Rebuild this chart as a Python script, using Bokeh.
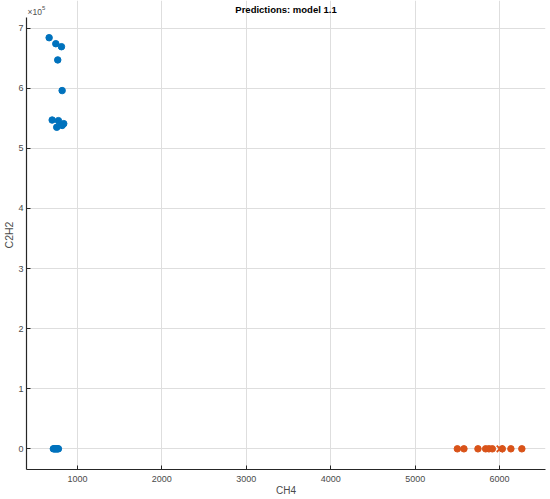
import numpy as np
from bokeh.plotting import figure
from bokeh.models import Range1d, FixedTicker, Label
from bokeh.embed import file_html
from bokeh.resources import INLINE

# ---- data ----
blue_x = [665, 744, 811, 767, 819, 701, 775, 755, 819, 838,
          715, 725, 735, 745, 755, 765, 775]
blue_y = [6.84e5, 6.74e5, 6.69e5, 6.47e5, 5.96e5, 5.47e5, 5.46e5, 5.35e5, 5.38e5, 5.41e5,
          0, 0, 0, 0, 0, 0, 0]
orange_x = [5500, 5578, 5744, 5835, 5874, 5914, 6032, 6134, 6264]
orange_y = [0, 0, 0, 0, 0, 0, 0, 0, 0]
cross_x = [6004]
cross_y = [0]

x_ticks = [1000, 2000, 3000, 4000, 5000, 6000]
y_ticks = [0, 1e5, 2e5, 3e5, 4e5, 5e5, 6e5, 7e5]
y_tick_labels = ["0", "1", "2", "3", "4", "5", "6", "7"]

title_text = "Predictions: model 1.1"
x_label = "CH4"
y_label = "C2H2"

# ---- layout (canvas sits at the page's top-left corner) ----
W, H = 550, 499
L, R, T, B = 25, 5, 0, 30          # frame: x 25..545, y 0..469
AXIS_TOP_PX = 17                    # where the drawn axes / grid stop
fw, fh = W - L - R, H - T - B
x0, x1 = 397, 6544
y_bottom = -0.344e5
y_axis_top = 7.176e5
px_per_y = (fh - AXIS_TOP_PX) / (y_axis_top - y_bottom)
y_top = y_bottom + fh / px_per_y

def fx(px):
    return x0 + (px - L) * (x1 - x0) / fw

def fy(py):
    return y_top - (py - T) / px_per_y

FONT = "Liberation Sans"
AX = "#262626"
TXT = "#4a4a4a"

p = figure(width=W, height=H, output_backend="svg", toolbar_location=None, title=None,
           x_range=Range1d(x0, x1), y_range=Range1d(y_bottom, y_top),
           min_border_left=L, min_border_right=R, min_border_top=T, min_border_bottom=B)
p.outline_line_color = None
p.background_fill_color = "white"
p.border_fill_color = "white"

for ax in (p.xaxis[0], p.yaxis[0]):
    ax.axis_line_color = AX
    ax.axis_line_width = 1.2
    ax.major_tick_line_color = AX
    ax.major_tick_in = 4
    ax.major_tick_out = 0
    ax.minor_tick_line_color = None
    ax.major_label_text_font = FONT
    ax.major_label_text_font_size = "9px"
    ax.major_label_text_color = TXT
    ax.axis_label_text_font = FONT
    ax.axis_label_text_font_size = "10px"
    ax.axis_label_text_font_style = "normal"
    ax.axis_label_text_color = TXT

p.xaxis.ticker = FixedTicker(ticks=x_ticks)
p.yaxis.ticker = FixedTicker(ticks=y_ticks)
p.yaxis.major_label_overrides = {t: s for t, s in zip(y_ticks, y_tick_labels)}
p.yaxis.bounds = (y_bottom, y_axis_top)
p.xaxis.major_label_standoff = 6
p.yaxis.major_label_standoff = 3
p.xaxis.axis_label = x_label
p.xaxis.axis_label_standoff = 0
p.yaxis.axis_label = y_label
p.yaxis.axis_label_standoff = 0
p.yaxis.axis_label_text_font_size = "10.5px"

p.xgrid.ticker = FixedTicker(ticks=x_ticks)
p.ygrid.ticker = FixedTicker(ticks=y_ticks)
p.xgrid.bounds = (y_bottom, y_axis_top)
p.grid.grid_line_color = "#dedede"
p.grid.grid_line_width = 1

p.scatter(blue_x, blue_y, size=6.5, color="#0072BD", marker="circle")
p.scatter(orange_x, orange_y, size=6.5, color="#D95319", marker="circle")
p.scatter(cross_x, cross_y, size=9, line_color="#D95319", line_width=1.8, marker="x")

# title (inside the frame's top strip, above the axes)
p.add_layout(Label(x=fx(285), y=fy(8.5), text=title_text, text_align="center",
                   text_baseline="middle", text_font=FONT, text_font_size="9.5px",
                   text_font_style="bold", text_color="black"))
# exponent of the y axis
p.add_layout(Label(x=fx(26), y=fy(11), text="\u00d710", text_align="left",
                   text_baseline="middle", text_font=FONT, text_font_size="8.5px",
                   text_color="#505050"))
p.add_layout(Label(x=fx(40.5), y=fy(7), text="5", text_align="left",
                   text_baseline="middle", text_font=FONT, text_font_size="6px",
                   text_color="#505050"))

open("out.html", "w").write(file_html(p, INLINE))
